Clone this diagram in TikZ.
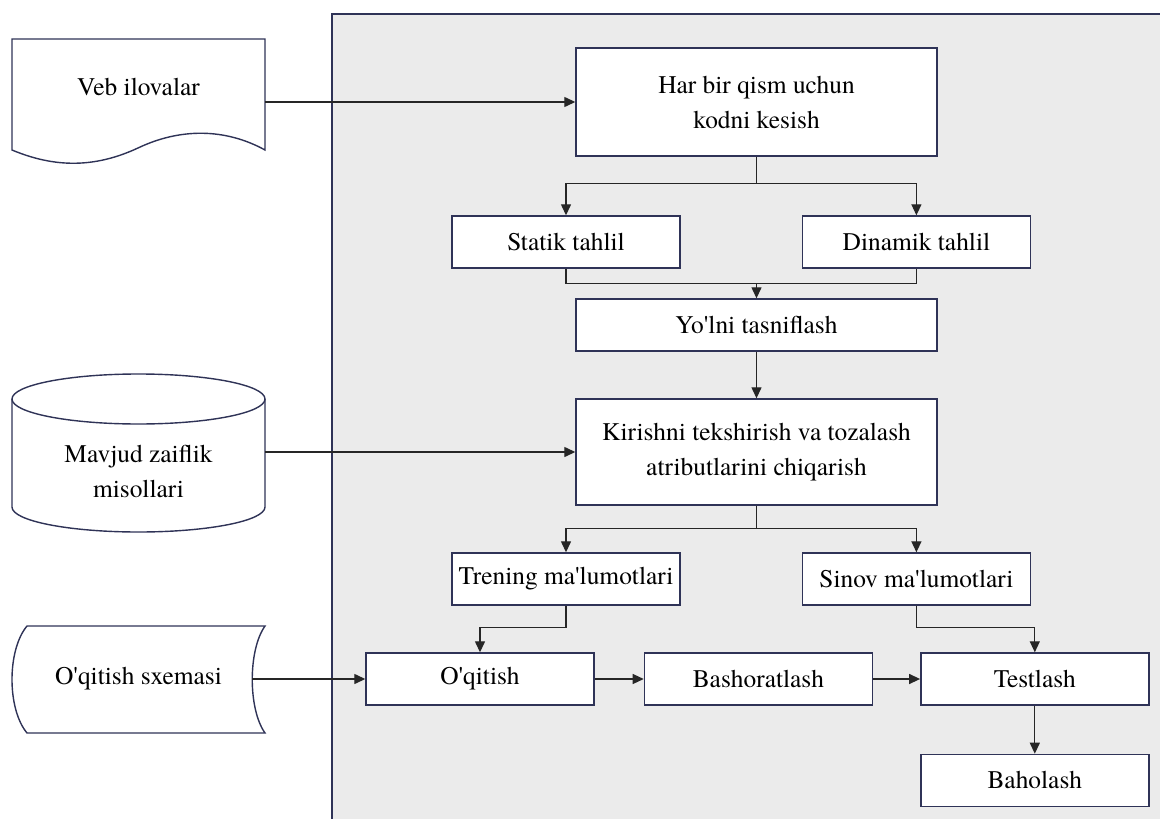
\documentclass[tikz,border=0pt]{standalone}
\usepackage{fontspec}
\IfFontExistsTF{texgyretermes-regular.otf}
  {\setmainfont{texgyretermes-regular.otf}}
  {}
\usetikzlibrary{positioning,arrows.meta}
\definecolor{navyline}{HTML}{2F3357}
\definecolor{panelgray}{HTML}{EBEBEB}
\definecolor{linkgray}{HTML}{262626}

\begin{document}
\begin{tikzpicture}[
  x=0.5pt, y=-0.5pt,
  font=\fontsize{12.7}{17.5}\selectfont,
  box/.style={draw=navyline, fill=white, line width=0.7pt, minimum width=114pt, minimum height=26pt, inner sep=2pt, align=center},
  widebox/.style={box, minimum width=180.5pt},
  srcline/.style={draw=navyline, line width=0.7pt, fill=white},
  srctext/.style={minimum width=126.5pt, inner sep=0pt, align=center},
  link/.style={draw=linkgray, line width=0.65pt},
  arr/.style={link, -{Triangle[length=5.5pt,width=5pt]}}
]
  \useasboundingbox (0,0) rectangle (1160,818);
  % grey panel, cut off at the right and bottom
  \draw[navyline, line width=0.7pt, fill=panelgray] (332,14) rectangle (1180,840);

  % sources on the left
  \draw[srcline] (12,39) -- (265,39) -- (265,150) .. controls (225,128) and (180,128) .. (138,148) .. controls (95,168) and (55,168) .. (12,150) -- cycle;
  \draw[srcline] (12,399) -- (12,507) arc[start angle=180, end angle=360, x radius=63.25pt, y radius=12.5pt] -- (265,399) arc[start angle=0, end angle=180, x radius=63.25pt, y radius=12.5pt] -- cycle;
  \draw[navyline, line width=0.7pt] (12,399) arc[start angle=180, end angle=360, x radius=63.25pt, y radius=12.5pt];
  \draw[srcline] (27,626) -- (265,626) .. controls (248,650) and (248,709) .. (265,733) -- (27,733) .. controls (7,709) and (7,650) .. (27,626) -- cycle;
  \node[srctext] (web) at (138.5,87) {Veb ilovalar};
  \node[srctext] (vuln) at (138.5,471) {Mavjud zaiflik\\misollari};
  \node[srctext] (scheme) at (138.5,679) {O\textquotesingle qitish sxemasi};

  % pipeline
  \node[widebox, minimum height=54pt] (cut) at (756.5,102) {Har bir qism uchun\\kodni kesish};
  \node[box] (static) at (566,242) {Statik tahlil};
  \node[box, right=60.5pt of static] (dynamic) {Dinamik tahlil};
  \node[widebox] (path) at (756.5,325) {Yo\textquotesingle lni tasniflash};
  \node[widebox, minimum height=53pt] (attr) at (756.5,452) {Kirishni tekshirish va tozalash\\atributlarini chiqarish};
  \node[box] (train) at (566,579) {Trening ma\textquotesingle lumotlari};
  \node[box, right=60.5pt of train] (test) {Sinov ma\textquotesingle lumotlari};
  \node[box] (learn) at (480,679) {O\textquotesingle qitish};
  \node[box, right=24.5pt of learn] (predict) {Bashoratlash};
  \node[box, right=23.5pt of predict] (check) {Testlash};
  \node[box, below=24pt of check] (grade) {Baholash};

  \draw[arr] (web.east |- cut.west) -- (cut.west);
  \draw[arr] (cut.south) -- ++(0,27) coordinate (split1) -| (static.north);
  \draw[arr] (split1) -| (dynamic.north);
  \draw[link] (static.south) -- ++(0,15) coordinate (join1) -| (dynamic.south);
  \draw[arr] (join1 -| path.north) -- (path.north);
  \draw[arr] (path) -- (attr);
  \draw[arr] (vuln.east |- attr.west) -- (attr.west);
  \draw[arr] (attr.south) -- ++(0,23) coordinate (split2) -| (train.north);
  \draw[arr] (split2) -| (test.north);
  \draw[arr] (train.south) -- ++(0,22) -| (learn.north);
  \draw[arr] (test.south) -- ++(0,22) -| (check.north);
  \draw[arr] ([xshift=-6.5pt]scheme.east) -- (learn.west);
  \draw[arr] (learn) -- (predict);
  \draw[arr] (predict) -- (check);
  \draw[arr] (check) -- (grade);
\end{tikzpicture}
\end{document}
